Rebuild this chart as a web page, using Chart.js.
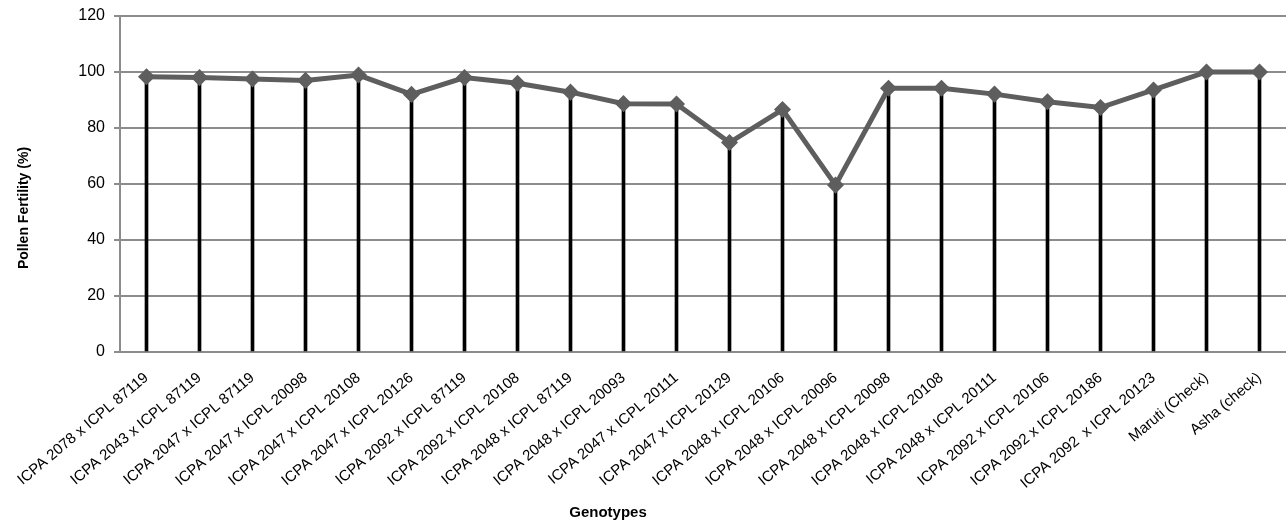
<!DOCTYPE html>
<html>
<head>
<meta charset="utf-8">
<script src="https://cdn.jsdelivr.net/npm/chart.js@4/dist/chart.umd.min.js"></script>
<style>
  html, body { margin: 0; padding: 0; background: #fff; overflow: hidden; }
  #wrap { width: 1286px; height: 525px; position: relative; }
  #myChart { display: block; }
</style>
</head>
<body>
<div id="wrap"><canvas id="myChart"></canvas></div>
<script>
// genotypes on the x axis
var genotypes = [
    "ICPA 2078 x ICPL 87119", "ICPA 2043 x ICPL 87119", "ICPA 2047 x ICPL 87119",
    "ICPA 2047 x ICPL 20098", "ICPA 2047 x ICPL 20108", "ICPA 2047 x ICPL 20126",
    "ICPA 2092 x ICPL 87119", "ICPA 2092 x ICPL 20108", "ICPA 2048 x ICPL 87119",
    "ICPA 2048 x ICPL 20093", "ICPA 2047 x ICPL 20111", "ICPA 2047 x ICPL 20129",
    "ICPA 2048 x ICPL 20106", "ICPA 2048 x ICPL 20096", "ICPA 2048 x ICPL 20098",
    "ICPA 2048 x ICPL 20108", "ICPA 2048 x ICPL 20111", "ICPA 2092 x ICPL 20106",
    "ICPA 2092 x ICPL 20186", "ICPA 2092  x ICPL 20123", "Maruti (Check)", "Asha (check)"
];
// pollen fertility (%)
var fertility = [98.3, 98.0, 97.5, 97.0, 98.9, 92.0, 98.0, 96.0, 92.8, 88.7, 88.6,
    74.8, 86.6, 59.6, 94.2, 94.2, 92.1, 89.4, 87.3, 93.6, 100, 100];
var yTicks = [0, 20, 40, 60, 80, 100, 120];
var xTitle = 'Genotypes';
var yTitle = 'Pollen Fertility (%)';

var fontFam = "'Liberation Sans', Arial, sans-serif";

var chartData = {
    labels: genotypes,
    datasets: [
        {
            type: 'line',
            label: 'Pollen Fertility',
            data: fertility,
            borderColor: '#5e5e5e',
            backgroundColor: '#5e5e5e',
            borderWidth: 5,
            pointStyle: 'rectRot',
            pointRadius: 5,
            pointBackgroundColor: '#5e5e5e',
            pointBorderColor: '#5e5e5e',
            tension: 0,
            order: 0
        },
        {
            // drop lines from each point down to the axis
            type: 'bar',
            label: 'drop',
            data: fertility,
            backgroundColor: '#000',
            barThickness: 3,
            order: 1
        }
    ]
};

// axis titles sit off-centre in the original, so draw them by hand
var axisTitles = {
    id: 'axisTitles',
    afterDraw: function (chart) {
        var ctx = chart.ctx;
        ctx.save();
        ctx.fillStyle = '#000';
        ctx.textAlign = 'center';
        ctx.textBaseline = 'middle';
        ctx.font = 'bold 15px ' + fontFam;
        ctx.fillText(xTitle, 608, 513);
        ctx.translate(24, 208);
        ctx.rotate(-Math.PI / 2);
        ctx.font = 'bold 14px ' + fontFam;
        ctx.fillText(yTitle, 0, 0);
        ctx.restore();
    }
};

function noPadding() {
    return { left: 0, top: 0, right: 0, bottom: 0 };
}

new Chart(document.getElementById('myChart'), {
    data: chartData,
    plugins: [axisTitles],
    options: {
        responsive: true,
        maintainAspectRatio: false,
        animation: false,
        layout: { autoPadding: false, padding: { top: 16, right: 0, left: 0, bottom: 0 } },
        plugins: {
            legend: { display: false },
            tooltip: { enabled: false }
        },
        scales: {
            x: {
                offset: true,
                grid: { display: false },
                border: { display: true, color: '#8c8c8c', width: 2 },
                ticks: {
                    color: '#000',
                    font: { family: fontFam, size: 15 },
                    minRotation: 40,
                    maxRotation: 40,
                    autoSkip: false,
                    padding: 9
                },
                afterFit: function (scale) {
                    // the rotated labels may hang past the plot edges
                    scale.height = 173;
                    scale.paddingLeft = 0;
                    scale.paddingRight = 0;
                    scale.getPadding = noPadding;
                }
            },
            y: {
                min: 0,
                max: 120,
                afterBuildTicks: function (scale) {
                    scale.ticks = yTicks.map(function (v) { return { value: v }; });
                },
                grid: { color: '#8c8c8c', lineWidth: 2, tickLength: 6 },
                border: { display: true, color: '#8c8c8c', width: 2 },
                ticks: {
                    color: '#000',
                    font: { family: fontFam, size: 16 },
                    padding: 9
                },
                afterFit: function (scale) {
                    scale.width = 120;
                    scale.paddingTop = 0;
                    scale.paddingBottom = 0;
                    scale.getPadding = noPadding;
                }
            }
        }
    }
});
</script>
</body>
</html>
